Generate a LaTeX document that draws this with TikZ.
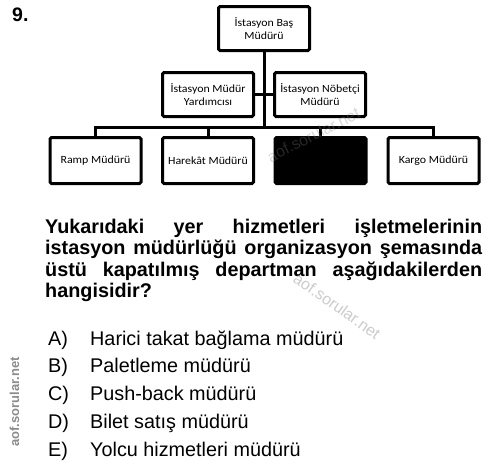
\documentclass[tikz,border=0pt]{standalone}
\usepackage{fontspec}
\setmainfont{Liberation Sans}
\newfontfamily\boxfont[FakeStretch=1.08]{Carlito}
\begin{document}
\begin{tikzpicture}[x=1pt,y=-1pt,
  orgbox/.style={draw=black, line width=3pt, rounded corners=1.5pt, minimum width=91pt, minimum height=44pt, inner sep=0pt, align=center, font=\boxfont\fontsize{11}{13}\selectfont, fill=white},
  conn/.style={line width=3pt, line cap=rect, line join=miter},
  qline/.style={anchor=base west, inner sep=0pt, font=\bfseries\fontsize{19.8}{22}\selectfont},
  opt/.style={anchor=base west, inner sep=0pt, font=\fontsize{19.8}{22}\selectfont},
  wm/.style={inner sep=0pt}]
\useasboundingbox[fill=white] (0,0) rectangle (500,466);

\coordinate (bar) at (264,127);
\node[orgbox] (top) at (264,28.5) {İstasyon Baş\\Müdürü};
\node[orgbox] (m1) at (208,94.5) {İstasyon Müdür\\Yardımcısı};
\node[orgbox] (m2) at (320,94.5) {İstasyon Nöbetçi\\Müdürü};
\node[orgbox, minimum height=46pt] (b1) at (95.5,160.5) {Ramp Müdürü};
\node[orgbox, minimum height=46pt] (b2) at (208,160.5) {Harekât Müdürü};
\node[orgbox, minimum height=46pt, fill=black] (b3) at (320.5,160.5) {};
\node[orgbox, minimum height=46pt] (b4) at (433.5,160.5) {Kargo Müdürü};

\draw[conn] (top.south) -- (bar);
\draw[conn] (m1.east) -- (m2.west);
\draw[conn] (b1.north) -- (b1.north |- bar) -- (b4.north |- bar) -- (b4.north);
\draw[conn] (b2.north) -- (b2.north |- bar);
\draw[conn] (b3.north) -- (b3.north |- bar);

% number
\node[anchor=base west, inner sep=0pt, font=\bfseries\fontsize{19.5}{20}\selectfont] (num) at (12,21.5) {9.};

% question
\node[qline] (q1) at (45,233) {\makebox[437pt][s]{Yukarıdaki yer hizmetleri işletmelerinin}};
\node[qline] (q2) at (45,254.5) {\makebox[437pt][s]{istasyon müdürlüğü organizasyon şemasında}};
\node[qline] (q3) at (45,276) {\makebox[437pt][s]{üstü kapatılmış departman aşağıdakilerden}};
\node[qline] (q4) at (45,297.5) {hangisidir?};

% options
\node[opt] (la) at (48,345) {A)};
\node[opt] (ta) at (90,345) {Harici takat bağlama müdürü};
\node[opt] (lb) at (48,372.5) {B)};
\node[opt] (tb) at (90,372.5) {Paletleme müdürü};
\node[opt] (lc) at (48,400.5) {C)};
\node[opt] (tc) at (90,400.5) {Push-back müdürü};
\node[opt] (ld) at (48,428.5) {D)};
\node[opt] (td) at (90,428.5) {Bilet satış müdürü};
\node[opt] (le) at (48,456.5) {E)};
\node[opt] (te) at (90,456.5) {Yolcu hizmetleri müdürü};

% watermarks
\node[wm, text=black!45, rotate=90, font=\bfseries\fontsize{13}{13}\selectfont] (wm1) at (14.5,402) {aof.sorular.net};
\node[wm, text=black!20, rotate=-35, font=\fontsize{16}{16}\selectfont] (wm2) at (337,306) {aof.sorular.net};
\node[wm, anchor=west, text=gray, opacity=0.3, rotate=27, font=\fontsize{16}{16}\selectfont] (wm3) at (268,158) {aof.sorular.net};
\end{tikzpicture}
\end{document}
